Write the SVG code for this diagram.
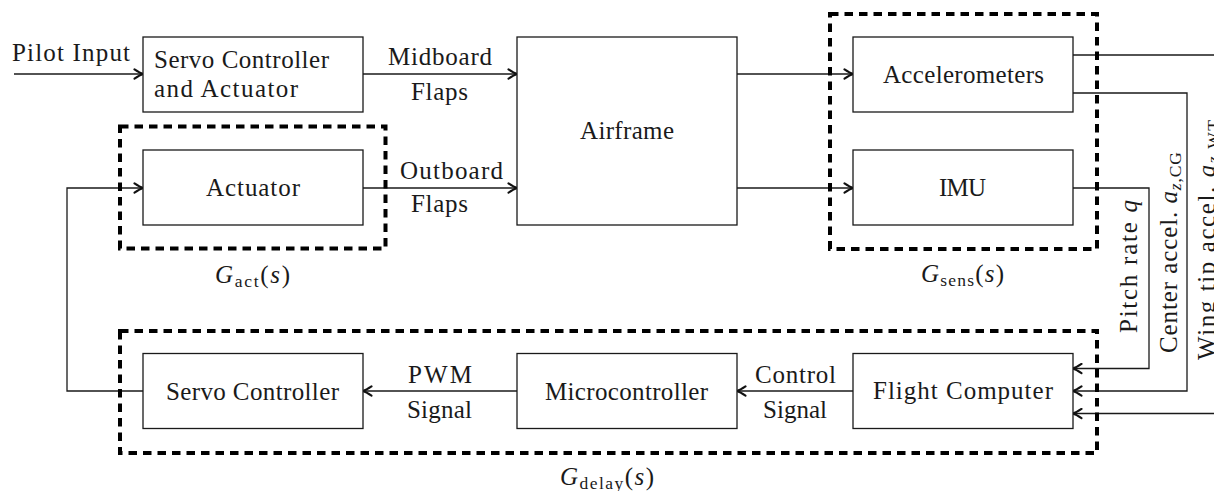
<svg xmlns="http://www.w3.org/2000/svg" width="1214" height="491" viewBox="0 0 1214 491">
<style>
.box{fill:#fff;stroke:#1a1a1a;stroke-width:1.3}
.grp{fill:none;stroke:#000;stroke-width:4;stroke-dasharray:8.5 6}
.wire{fill:none;stroke:#1a1a1a;stroke-width:1.3}
.t{font-family:"Liberation Serif","Times New Roman",serif;font-size:25px;fill:#1a1a1a}
.i{font-style:italic}
.sub{font-size:17.5px}
</style>
<defs>
<marker id="arr" viewBox="-11 -6 12 12" refX="0" refY="0" markerWidth="12" markerHeight="12" markerUnits="userSpaceOnUse" orient="auto">
<path d="M-8.5,-4.6 Q-3,-1 0,0 Q-3,1 -8.5,4.6" fill="none" stroke="#111" stroke-width="2.1" stroke-linecap="round" stroke-linejoin="round"/>
</marker>
</defs>
<rect width="1214" height="491" fill="#fff"/>

<g id="connectors">
<path class="wire" d="M14,74 H143" marker-end="url(#arr)"/>
<path class="wire" d="M363,74 H517" marker-end="url(#arr)"/>
<path class="wire" d="M363,188 H517" marker-end="url(#arr)"/>
<path class="wire" d="M737,74 H853" marker-end="url(#arr)"/>
<path class="wire" d="M737,188 H853" marker-end="url(#arr)"/>
<path class="wire" d="M1073,55 H1214"/>
<path class="wire" d="M1073,93 H1187 V391 H1073" marker-end="url(#arr)"/>
<path class="wire" d="M1073,188 H1149 V368.5 H1073" marker-end="url(#arr)"/>
<path class="wire" d="M1214,413.5 H1073" marker-end="url(#arr)"/>
<path class="wire" d="M853,391 H737" marker-end="url(#arr)"/>
<path class="wire" d="M517,391 H363" marker-end="url(#arr)"/>
<path class="wire" d="M143,391 H67 V188 H143" marker-end="url(#arr)"/>
<text class="t" x="12" y="61" textLength="118" lengthAdjust="spacing">Pilot Input</text>
<text class="t" x="388" y="65" textLength="104" lengthAdjust="spacing">Midboard</text>
<text class="t" x="411" y="100" textLength="57" lengthAdjust="spacing">Flaps</text>
<text class="t" x="400" y="179" textLength="103" lengthAdjust="spacing">Outboard</text>
<text class="t" x="411" y="212" textLength="57" lengthAdjust="spacing">Flaps</text>
<text class="t" x="408" y="383" textLength="64" lengthAdjust="spacing">PWM</text>
<text class="t" x="407" y="417.5" textLength="65" lengthAdjust="spacing">Signal</text>
<text class="t" x="755" y="383" textLength="81" lengthAdjust="spacing">Control</text>
<text class="t" x="763" y="417.5" textLength="64" lengthAdjust="spacing">Signal</text>
<text class="t" transform="translate(1137,333) rotate(-90)" textLength="133" lengthAdjust="spacing">Pitch rate <tspan class="i">q</tspan></text>
<text class="t" transform="translate(1177,353) rotate(-90)" textLength="201" lengthAdjust="spacing">Center accel. <tspan class="i">a</tspan><tspan class="sub" dy="4"><tspan class="i">z</tspan>,CG</tspan></text>
<text class="t" transform="translate(1215,360) rotate(-90)" textLength="240" lengthAdjust="spacing">Wing tip accel. <tspan class="i">a</tspan><tspan class="sub" dy="4"><tspan class="i">z</tspan>,WT</tspan></text>
</g>

<g id="servo_actuator">
<rect class="box" x="143" y="37" width="220" height="75"/>
<text class="t" x="154" y="68" textLength="175" lengthAdjust="spacing">Servo Controller</text>
<text class="t" x="154" y="97" textLength="144" lengthAdjust="spacing">and Actuator</text>
</g>
<g id="airframe">
<rect class="box" x="517" y="37" width="220" height="188"/>
<text class="t" x="580" y="139" textLength="94" lengthAdjust="spacing">Airframe</text>
</g>
<g id="actuator">
<rect class="box" x="143" y="150" width="220" height="75"/>
<text class="t" x="206" y="196" textLength="94" lengthAdjust="spacing">Actuator</text>
</g>
<g id="accelerometers">
<rect class="box" x="853" y="37" width="220" height="75"/>
<text class="t" x="883" y="83" textLength="161" lengthAdjust="spacing">Accelerometers</text>
</g>
<g id="imu">
<rect class="box" x="853" y="150" width="220" height="75"/>
<text class="t" x="939" y="196" textLength="47" lengthAdjust="spacing">IMU</text>
</g>
<g id="servo_controller">
<rect class="box" x="143" y="353.5" width="220" height="75"/>
<text class="t" x="166" y="400" textLength="173" lengthAdjust="spacing">Servo Controller</text>
</g>
<g id="microcontroller">
<rect class="box" x="517" y="353.5" width="220" height="75"/>
<text class="t" x="545" y="400" textLength="163" lengthAdjust="spacing">Microcontroller</text>
</g>
<g id="flight_computer">
<rect class="box" x="853" y="353.5" width="220" height="75"/>
<text class="t" x="873" y="399" textLength="180" lengthAdjust="spacing">Flight Computer</text>
</g>

<g id="g_act">
<rect class="grp" x="120" y="126.5" width="265.5" height="122"/>
<text class="t" x="215" y="283" textLength="75" lengthAdjust="spacing"><tspan class="i">G</tspan><tspan class="sub" dy="4">act</tspan><tspan dy="-4">(</tspan><tspan class="i">s</tspan>)</text>
</g>
<g id="g_sens">
<rect class="grp" x="830" y="14" width="267" height="235"/>
<text class="t" x="921" y="282" textLength="83" lengthAdjust="spacing"><tspan class="i">G</tspan><tspan class="sub" dy="4">sens</tspan><tspan dy="-4">(</tspan><tspan class="i">s</tspan>)</text>
</g>
<g id="g_delay">
<rect class="grp" x="120" y="331" width="977" height="122"/>
<text class="t" x="560" y="485" textLength="94" lengthAdjust="spacing"><tspan class="i">G</tspan><tspan class="sub" dy="4">delay</tspan><tspan dy="-4">(</tspan><tspan class="i">s</tspan>)</text>
</g>
</svg>
